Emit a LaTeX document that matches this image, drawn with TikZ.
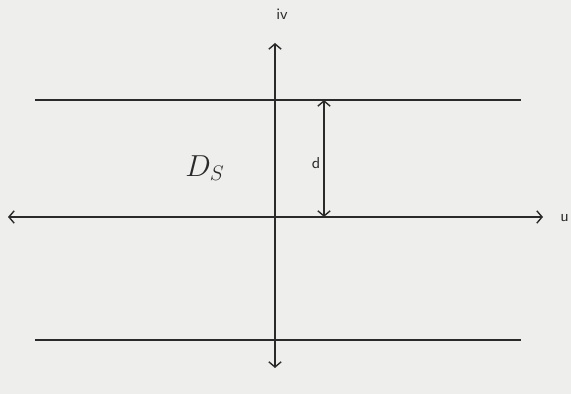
\documentclass[tikz,border=0pt]{standalone}
\usetikzlibrary{positioning, arrows.meta}
\usepackage{xcolor}
\definecolor{paper}{HTML}{EEEEEC}
\definecolor{ink}{HTML}{2A2A2A}

\begin{document}
\begin{tikzpicture}[
    axis/.style={draw=ink, line width=0.8pt, {Straight Barb[length=3pt,width=7pt]}-{Straight Barb[length=3pt,width=7pt]}},
    strip/.style={draw=ink, line width=0.8pt},
    lbl/.style={font=\sffamily\small, text=ink},
]

% ── Page ──
\fill[paper] (0,0) rectangle (11.42,7.88);
\useasboundingbox (0,0) rectangle (11.42,7.88);

% ── Axes ──
\coordinate (xl) at (0.16, 3.54);
\coordinate (xr) at (10.86, 3.54);
\coordinate (yb) at (5.5, 0.52);
\coordinate (yt) at (5.5, 7.02);
\draw[axis] (xl) -- (xr);
\draw[axis] (yb) -- (yt);
\node[lbl, anchor=east, inner sep=1pt] (u) at (11.42, 3.52) {u};
\node[lbl] (iv) at (5.64, 7.6) {iv};

% ── Strip boundaries ──
\coordinate (tl) at (0.7, 5.88);
\coordinate (tr) at (10.42, 5.88);
\coordinate (bl) at (0.7, 1.08);
\coordinate (br) at (10.42, 1.08);
\draw[strip] (tl) -- (tr);
\draw[strip] (bl) -- (br);

% ── Width d ──
\coordinate (dt) at (6.48, 5.88);
\coordinate (db) at (6.48, 3.54);
\draw[axis] (db) -- (dt);
\node[lbl] (d) at (6.32, 4.62) {d};

\node[font=\LARGE, text=ink] (ds) at (4.1, 4.52) {$D_S$};

\end{tikzpicture}
\end{document}
